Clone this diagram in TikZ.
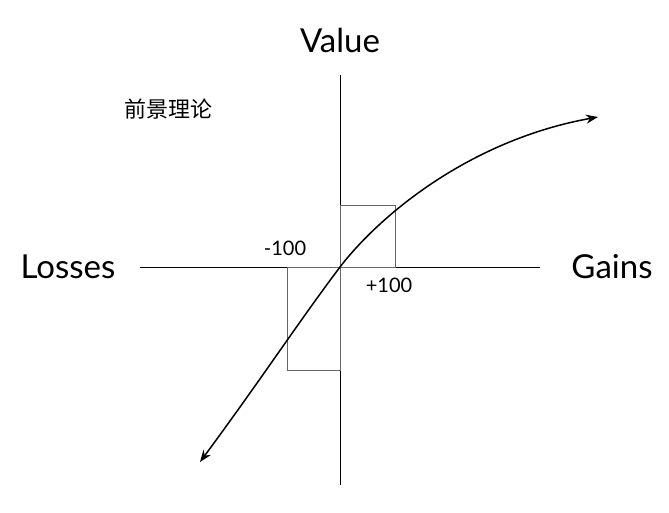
\documentclass[tikz,border=0pt]{standalone}
\usepackage{fontspec}
\setmainfont{Lato}
\newfontfamily\cjk{Noto Sans CJK SC}
\usetikzlibrary{arrows.meta}
\begin{document}
\begin{tikzpicture}[x=1pt,y=-1pt,
  axis/.style={line width=1pt},
  thin box/.style={draw=black!60,line width=0.6pt},
  curve/.style={line width=1.5pt,{Stealth[length=12pt,width=9pt]}-{Stealth[length=12pt,width=9pt]}},
  big/.style={font=\fontsize{33}{38}\selectfont},
  small/.style={font=\fontsize{20}{24}\selectfont}]
\useasboundingbox (0,0) rectangle (669,512);
\coordinate (O) at (340,267);
\coordinate (T) at (340,75);
\coordinate (B) at (340,485);
\coordinate (L) at (140,267);
\coordinate (R) at (540,267);
\draw[axis] (T) -- (B);
\draw[axis] (L) -- (R);
\draw[thin box] (340,205) rectangle (395,267);
\draw[thin box] (287,267) rectangle (340,370);
\coordinate (S) at (200,462);
\coordinate (E) at (598,117);
\draw[curve] (S) .. controls (262,378) and (300,320) .. (O) .. controls (380,215) and (470,140) .. (E);
\node[big] (v) at (340,40) {Value};
\node[big] (l) at (68,267) {Losses};
\node[big] (g) at (612,267) {Gains};
\node[small] (m) at (285,248) {-100};
\node[small] (p) at (389,285) {+100};
\node[font=\cjk\fontsize{22}{26}\selectfont] (t) at (168,109) {前景理论};
\end{tikzpicture}
\end{document}
